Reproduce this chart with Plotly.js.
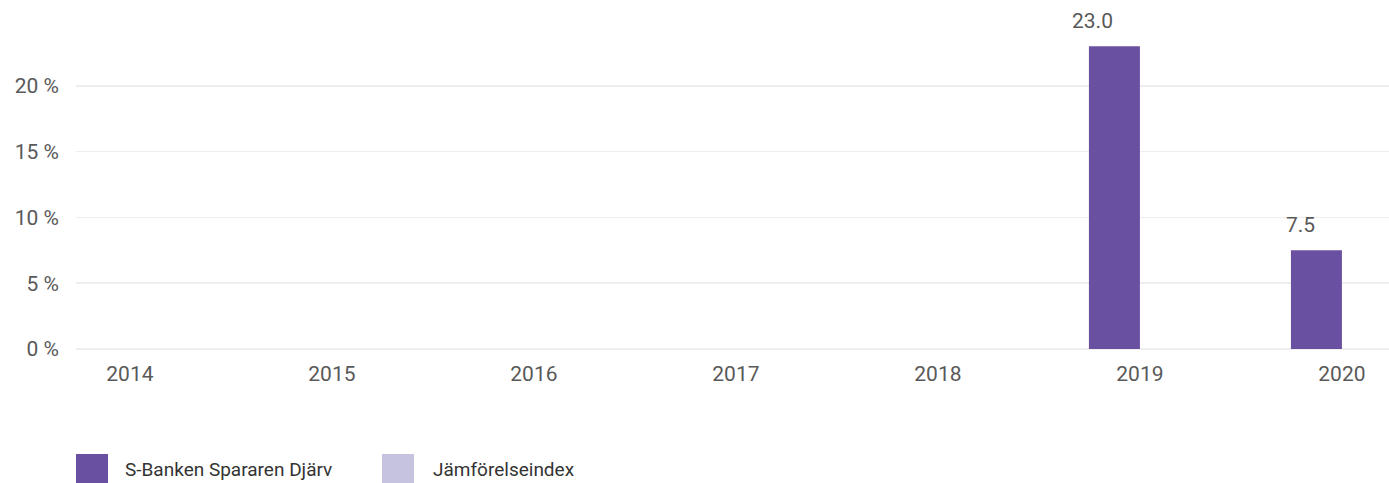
<!DOCTYPE html>
<html>
<head>
<meta charset="utf-8">
<script src="https://cdn.plot.ly/plotly-3.0.1.min.js"></script>
<style>
html,body{margin:0;padding:0;background:#fff;}
#chart{width:1389px;height:483px;}
</style>
</head>
<body>
<div id="chart"></div>
<script>
const years = ['2014','2015','2016','2017','2018','2019','2020'];
const fundName = 'S-Banken Spararen Djärv';
const indexName = 'Jämförelseindex';
const fundValues = [null, null, null, null, null, 23.0, 7.5];
const indexValues = [null, null, null, null, null, null, null];
const yTickVals = [0, 5, 10, 15, 20];
const yTickText = ['0 %', '5 %', '10 %', '15 %', '20 %'];

const fundColor = '#6a50a0';
const indexColor = '#c5c3e0';
const textColor = '#595959';
const fontFamily = 'Roboto, "Liberation Sans", sans-serif';

const traces = [
  {type:'bar', name:fundName, x:years, y:fundValues, marker:{color:fundColor}, hoverinfo:'x+y'},
  {type:'bar', name:indexName, x:years, y:indexValues, marker:{color:indexColor}, hoverinfo:'x+y'}
];

const annotations = [];
fundValues.forEach((v,i)=>{
  if(v!==null){
    annotations.push({x:i, y:v, xref:'x', yref:'y', text:v.toFixed(1), showarrow:false,
      xanchor:'right', yanchor:'bottom', xshift:-25, yshift:11,
      font:{family:fontFamily, size:21, color:textColor}});
  }
});
// custom legend labels
annotations.push({xref:'paper', yref:'paper', x:(123-76)/1313, y:(483-469-134)/329, xanchor:'left', yanchor:'middle',
  text:fundName, showarrow:false, font:{family:fontFamily, size:19, color:'#333'}});
annotations.push({xref:'paper', yref:'paper', x:(431-76)/1313, y:(483-469-134)/329, xanchor:'left', yanchor:'middle',
  text:indexName, showarrow:false, font:{family:fontFamily, size:19, color:'#333'}});

const px = v => (v-76)/1313;
const py = v => (483-134-v)/329;
const shapes = [
  {type:'rect', xref:'paper', yref:'paper', x0:px(76), x1:px(108), y0:py(483), y1:py(454), fillcolor:fundColor, line:{width:0}},
  {type:'rect', xref:'paper', yref:'paper', x0:px(382), x1:px(414), y0:py(483), y1:py(454), fillcolor:indexColor, line:{width:0}}
];

const layout = {
  width:1389, height:483,
  margin:{l:76, r:0, t:20, b:134},
  paper_bgcolor:'#fff', plot_bgcolor:'#fff',
  barmode:'group', bargap:0.495, bargroupgap:0,
  showlegend:false,
  font:{family:fontFamily, color:textColor, size:21},
  xaxis:{type:'category', range:[-0.267, 6.233], showgrid:false, zeroline:false, showline:false,
    ticks:'', ticklabelstandoff:10, tickfont:{size:21, color:textColor}, fixedrange:true},
  yaxis:{range:[0,25], tickvals:yTickVals, ticktext:yTickText, showgrid:true, gridcolor:'#eeeeee', gridwidth:1.5,
    zeroline:true, zerolinecolor:'#eeeeee', zerolinewidth:1.5, showline:false, ticks:'',
    ticklabelstandoff:16, tickfont:{size:21, color:textColor}, fixedrange:true},
  annotations:annotations,
  shapes:shapes
};

Plotly.newPlot('chart', traces, layout, {displayModeBar:false, staticPlot:true});
</script>
</body>
</html>
